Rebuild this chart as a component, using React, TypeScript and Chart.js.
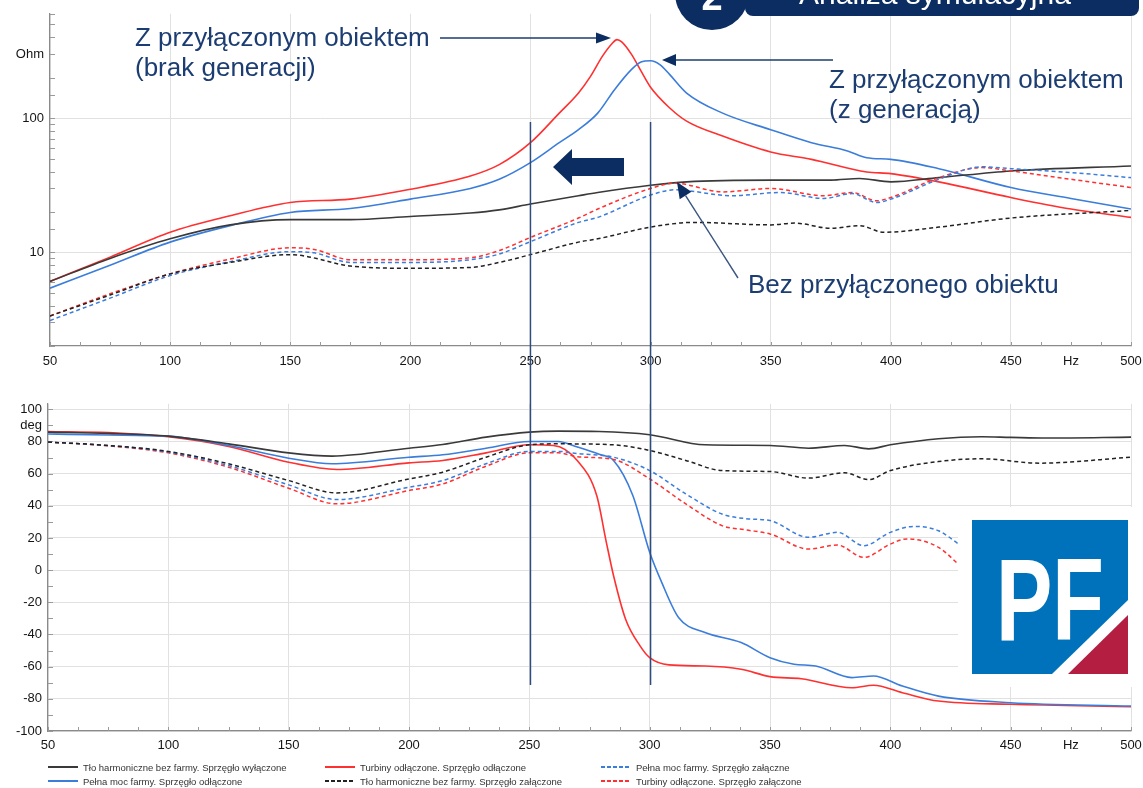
import React, { useEffect, useRef, useState } from 'react';
import { Chart, registerables } from 'chart.js';
Chart.register(...registerables);

// ---------- axis ranges / ticks ----------
const FREQ_MIN = 50;
const FREQ_MAX = 500;
const FREQ_STEP = 12.5;
const FREQ_LABEL_STEP = 50;
const FREQ_UNIT_AT = 475; // "Hz" label position
const MAG_MIN = 2;
const MAG_MAX = 600;
const MAG_LABELS: [number, string][] = [[10, '10'], [100, '100'], [300, 'Ohm']];
const PH_MIN = -100;
const PH_MAX = 103.4;
const PH_STEP = 10;
const PH_UNIT_AT = 90; // "deg" label position
const MARK_FREQS = [250, 300];

// ---------- magnitude |Z| (Ohm) ----------
const magBgOffF = [50, 75, 100, 125, 150, 175, 200, 225, 237, 250, 270, 278, 300, 315, 350, 375, 387, 400, 420, 450, 500];
const magBgOff = [6.06, 9.0, 12.6, 16.0, 17.5, 17.5, 18.5, 19.6, 20.7, 22.9, 26.4, 27.9, 31.6, 33.5, 34.5, 34.5, 35.5, 33.5, 36, 40.4, 44];

const magFullOffF = [50, 75, 100, 125, 150, 175, 200, 225, 237, 250, 262, 270, 278, 285, 292, 296, 300, 304, 308, 315, 330, 350, 367, 382, 390, 400, 420, 450, 475, 500];
const magFullOff = [5.4, 8.0, 11.9, 15.8, 19.8, 21.2, 24.9, 29.9, 35, 46.6, 65.6, 82, 109, 163, 230, 262, 268, 250, 211, 154, 109, 82, 65.6, 57, 50.7, 49.3, 42, 30.4, 25.2, 21];

const magTurbOffF = [50, 75, 100, 125, 150, 175, 200, 225, 237, 250, 262, 270, 275, 280, 284, 286, 288, 292, 296, 300, 308, 315, 330, 350, 367, 390, 400, 420, 450, 475, 500];
const magTurbOff = [6.06, 9.2, 14.1, 18.7, 23.5, 24.9, 29.5, 37, 45, 65.6, 109, 154, 205, 290, 360, 385, 370, 300, 225, 170, 119, 95, 73.5, 56, 49.3, 39.7, 38.6, 33.5, 25.6, 21, 18.2];

const magBgOnF = [50, 75, 100, 125, 150, 175, 200, 225, 237, 250, 270, 278, 300, 318, 350, 360, 375, 387, 397, 420, 450, 500];
const magBgOn = [3.35, 4.8, 6.9, 8.4, 9.6, 7.9, 7.6, 7.7, 8.4, 9.6, 11.9, 12.6, 15.4, 16.7, 16, 16.5, 15.1, 15.8, 14.1, 15.4, 18, 20.5];

const magFullOnF = [50, 75, 100, 125, 150, 160, 175, 200, 225, 237, 250, 270, 278, 300, 310, 334, 354, 372, 384, 394, 400, 420, 438, 450, 475, 500];
const magFullOn = [3.1, 4.55, 6.7, 8.5, 10.1, 9.9, 8.4, 8.4, 8.8, 9.7, 12, 16.7, 18.2, 26.7, 29.2, 26.4, 27.9, 25.2, 27.4, 23.5, 24.9, 35, 43.4, 42, 39.3, 36];

const magTurbOnF = [50, 75, 100, 125, 150, 160, 175, 200, 225, 237, 250, 270, 278, 300, 310, 330, 350, 372, 384, 394, 400, 420, 438, 450, 475, 500];
const magTurbOn = [3.35, 4.9, 6.9, 8.9, 10.8, 10.5, 8.8, 8.8, 9.1, 10.3, 12.9, 18, 21, 29.9, 32.7, 28.2, 29.9, 26.4, 27.9, 24.2, 25.6, 36, 42.8, 40.4, 35, 30.4];

// ---------- phase (deg) ----------
const phBgOffF = [50, 75, 100, 125, 150, 168, 200, 214, 232, 250, 262, 279, 300, 323, 350, 366, 381, 391, 400, 420, 438, 450, 465, 500];
const phBgOff = [85.8, 85, 83.3, 78.5, 72.9, 70.9, 75.8, 78.1, 82.7, 85.8, 86.4, 86.2, 84.2, 77.9, 77.5, 75.8, 77.5, 75.4, 77.9, 81.7, 82.9, 82.5, 82.1, 82.7];

const phFullOffF = [50, 75, 100, 125, 150, 168, 200, 214, 232, 250, 262, 270, 279, 285, 293, 300, 305, 312, 323, 338, 350, 360, 369, 384, 393, 405, 420, 450, 500];
const phFullOff = [84.6, 84, 83.3, 77.5, 69.6, 66.1, 70.2, 71.7, 75.8, 80, 80, 76.5, 72, 68.2, 46.4, 11.1, -7.6, -29.4, -38.8, -45, -54.4, -58.5, -59.6, -66.8, -65.8, -72, -78.3, -82.4, -84.5];

const phTurbOffF = [50, 75, 100, 125, 150, 170, 200, 214, 232, 250, 260, 270, 278, 282, 285, 290, 296, 300, 308, 323, 338, 350, 363, 384, 393, 405, 420, 450, 500];
const phTurbOff = [86.2, 85.5, 82.9, 76.9, 67.1, 62.6, 66.7, 68.2, 72.9, 77.9, 77.5, 68, 46.4, 17.3, -3.5, -30.5, -47.1, -54.4, -58.9, -59.6, -61.6, -66.2, -67.5, -73.1, -71.6, -76.2, -81.4, -83.4, -84.9];

const phBgOnF = [50, 75, 100, 125, 150, 170, 200, 214, 232, 250, 262, 285, 300, 315, 330, 350, 366, 381, 391, 400, 420, 438, 462, 500];
const phBgOn = [79.6, 77.5, 73.8, 66.1, 55.7, 48, 56.7, 60.9, 70.2, 77.9, 78.5, 77.9, 74.4, 68.2, 61.9, 61.3, 57.2, 60.5, 56.3, 61.9, 67.5, 69.2, 66.5, 70.2];

const phFullOnF = [50, 75, 100, 125, 150, 170, 200, 214, 232, 250, 262, 270, 285, 300, 315, 330, 340, 350, 366, 378, 389, 400, 410, 420, 429];
const phFullOn = [79.6, 77.5, 73.4, 65, 53, 43.9, 51.5, 55.7, 66.1, 73.8, 73.8, 72.5, 70.2, 61.9, 47.4, 34.9, 32, 30.8, 20.4, 23.5, 15.2, 23.5, 27.2, 24.5, 15.6];

const phTurbOnF = [50, 75, 100, 125, 150, 170, 200, 214, 232, 250, 262, 270, 285, 300, 315, 330, 340, 350, 366, 378, 389, 400, 407, 420, 429];
const phTurbOn = [79.6, 77.3, 72.9, 64, 50.9, 41.2, 49.5, 53.6, 64.6, 72.9, 72.9, 70.5, 68.8, 56.7, 41.2, 27.7, 25, 22.5, 13.1, 15.6, 7.9, 16.2, 19.4, 14.2, 2.7];

// ---------- series ----------
const BLACK = '#3a3a3a';
const RED = '#ff3030';
const BLUE = '#3b7ddb';
const DASH = [4, 3];

const SERIES = [
  { label: 'Tło harmoniczne bez farmy. Sprzęgło wyłączone', color: BLACK, dash: [] as number[], mag: [magBgOffF, magBgOff], ph: [phBgOffF, phBgOff] },
  { label: 'Pełna moc farmy. Sprzęgło odłączone', color: BLUE, dash: [] as number[], mag: [magFullOffF, magFullOff], ph: [phFullOffF, phFullOff] },
  { label: 'Turbiny odłączone. Sprzęgło odłączone', color: RED, dash: [] as number[], mag: [magTurbOffF, magTurbOff], ph: [phTurbOffF, phTurbOff] },
  { label: 'Tło harmoniczne bez farmy. Sprzęgło załączone', color: '#222222', dash: DASH, mag: [magBgOnF, magBgOn], ph: [phBgOnF, phBgOn] },
  { label: 'Pełna moc farmy. Sprzęgło załączne', color: BLUE, dash: DASH, mag: [magFullOnF, magFullOn], ph: [phFullOnF, phFullOn] },
  { label: 'Turbiny odłączone. Sprzęgło załączone', color: RED, dash: DASH, mag: [magTurbOnF, magTurbOn], ph: [phTurbOnF, phTurbOn] },
];

const FONT = '"Liberation Sans", Arial, sans-serif';
const NAVY = '#1c3d72';
const DARK = '#0c2d62';

const pts = (f: number[], v: number[]) => f.map((x, i) => ({ x, y: v[i] }));

function datasets(kind: 'mag' | 'ph') {
  // draw dashed first, solid on top
  const order = [3, 4, 5, 0, 1, 2];
  return order.map((i) => {
    const s = SERIES[i];
    const [f, v] = s[kind];
    return {
      label: s.label,
      data: pts(f, v),
      borderColor: s.color,
      backgroundColor: s.color,
      borderDash: s.dash,
      borderWidth: s.dash.length ? 1.5 : 1.6,
      pointRadius: 0,
      fill: false,
      cubicInterpolationMode: 'monotone' as const,
    };
  });
}

const innerTicks = {
  id: 'innerTicks',
  beforeDatasetsDraw(chart: any) {
    const { ctx, chartArea } = chart;
    const xs = chart.scales.x;
    const ys = chart.scales.y;
    ctx.save();
    ctx.strokeStyle = '#9a9a9a';
    ctx.lineWidth = 1;
    ctx.beginPath();
    xs.ticks.forEach((t: any) => {
      const px = Math.round(xs.getPixelForValue(t.value)) + 0.5;
      ctx.moveTo(px, chartArea.bottom);
      ctx.lineTo(px, chartArea.bottom - 4);
    });
    ys.ticks.forEach((t: any) => {
      const py = Math.round(ys.getPixelForValue(t.value)) + 0.5;
      ctx.moveTo(chartArea.left, py);
      ctx.lineTo(chartArea.left + 5, py);
    });
    ctx.stroke();
    ctx.restore();
  },
};

const tickFont = { family: FONT, size: 13 };
const TICK_COLOR = '#151515';
const GRID = '#e1e1e1';
const AXIS = '#8a8a8a';

function xScale(padding: number, height: number) {
  return {
    type: 'linear',
    min: FREQ_MIN,
    max: FREQ_MAX,
    ticks: {
      stepSize: FREQ_STEP,
      autoSkip: false,
      maxRotation: 0,
      padding,
      font: tickFont,
      color: TICK_COLOR,
      callback: (v: number) => {
        if (Math.abs(v - FREQ_UNIT_AT) < 1e-6) return 'Hz';
        if (Math.abs(v % FREQ_LABEL_STEP) < 1e-6) return String(v);
        return '';
      },
    },
    grid: {
      drawTicks: false,
      lineWidth: 1,
      color: (c: any) => (c.tick && Math.abs(c.tick.value % FREQ_LABEL_STEP) < 1e-6 ? GRID : 'rgba(0,0,0,0)'),
    },
    border: { color: AXIS, width: 1.2 },
    afterFit: (s: any) => {
      s.height = height;
      s.paddingLeft = 0;
      s.paddingRight = 0;
    },
  };
}

export default function App() {
  const topRef = useRef<HTMLCanvasElement>(null);
  const botRef = useRef<HTMLCanvasElement>(null);
  const [marks, setMarks] = useState<number[]>([]);

  useEffect(() => {
    const top = new Chart(topRef.current!, {
      type: 'line',
      data: { datasets: datasets('mag') as any },
      options: {
        animation: false,
        responsive: false,
        maintainAspectRatio: false,
        layout: { padding: { top: 10, right: 12, left: 0, bottom: 0 } },
        plugins: { legend: { display: false }, tooltip: { enabled: false } },
        scales: {
          x: xScale(8, 34) as any,
          y: {
            type: 'logarithmic',
            min: MAG_MIN,
            max: MAG_MAX,
            ticks: {
              autoSkip: false,
              padding: 6,
              font: tickFont,
              color: TICK_COLOR,
              callback: (v: any) => {
                const hit = MAG_LABELS.find(([val]) => Math.abs(Number(v) - val) < 1e-6 * val);
                return hit ? hit[1] : '';
              },
            },
            grid: {
              drawTicks: false,
              color: (c: any) => (c.tick && MAG_LABELS.slice(0, 2).some(([val]) => Math.abs(c.tick.value - val) < 1e-6) ? GRID : 'rgba(0,0,0,0)'),
            },
            border: { color: AXIS, width: 1.2 },
            afterFit: (s: any) => { s.width = 50; },
          } as any,
        },
      },
      plugins: [innerTicks],
    });

    const bot = new Chart(botRef.current!, {
      type: 'line',
      data: { datasets: datasets('ph') as any },
      options: {
        animation: false,
        responsive: false,
        maintainAspectRatio: false,
        layout: { padding: { top: 12, right: 12, left: 0, bottom: 0 } },
        plugins: { legend: { display: false }, tooltip: { enabled: false } },
        scales: {
          x: xScale(7, 29) as any,
          y: {
            type: 'linear',
            min: PH_MIN,
            max: PH_MAX,
            ticks: {
              stepSize: PH_STEP,
              includeBounds: false,
              autoSkip: false,
              padding: 6,
              font: tickFont,
              color: TICK_COLOR,
              callback: (v: any) => {
                const n = Number(v);
                if (Math.abs(n - PH_UNIT_AT) < 1e-6) return 'deg';
                if (Math.abs(n % 20) < 1e-6) return String(Math.round(n));
                return '';
              },
            },
            grid: {
              drawTicks: false,
              color: (c: any) => (c.tick && Math.abs(c.tick.value % 20) < 1e-6 ? GRID : 'rgba(0,0,0,0)'),
            },
            border: { color: AXIS, width: 1.2 },
            afterFit: (s: any) => { s.width = 48; },
          } as any,
        },
      },
      plugins: [innerTicks],
    });

    setMarks(MARK_FREQS.map((f) => top.scales.x.getPixelForValue(f)));

    return () => {
      top.destroy();
      bot.destroy();
    };
  }, []);

  // legend: 3 columns x 2 rows, column-major
  const legendCols = [48, 325, 601];
  const legendRows = [767, 781];

  // annotation arrow 3 geometry
  const tail = [738, 278];
  const tip = [677, 182];
  const dx = tip[0] - tail[0];
  const dy = tip[1] - tail[1];
  const len = Math.hypot(dx, dy);
  const ux = dx / len, uy = dy / len;
  const nx = -uy, ny = ux;
  const bx = tip[0] - 16 * ux, by = tip[1] - 16 * uy;

  return (
    <div style={{ position: 'absolute', left: 0, top: 0, width: 1143, height: 788, background: '#fff', overflow: 'hidden' }}>
      <canvas ref={topRef} width={1143} height={380} style={{ position: 'absolute', left: 0, top: 0, width: 1143, height: 380 }} />
      <canvas ref={botRef} width={1143} height={370} style={{ position: 'absolute', left: 0, top: 390, width: 1143, height: 370 }} />
      <svg width={1143} height={788} style={{ position: 'absolute', left: 0, top: 0, pointerEvents: 'none' }} fontFamily={FONT}>
        {/* title badge */}
        <rect x={745} y={-20} width={394} height={36} rx={8} fill={DARK} />
        <circle cx={712} cy={-7} r={37} fill={DARK} />
        <text x={712} y={10} fill="#fff" fontSize={38} fontWeight="bold" textAnchor="middle">2</text>
        <text x={935} y={4} fill="#fff" fontSize={30} textAnchor="middle">Analiza symulacyjna</text>

        {/* vertical markers */}
        {marks.map((x, i) => (
          <line key={i} x1={x} x2={x} y1={122} y2={685} stroke="#2e4c7e" strokeWidth={1.5} />
        ))}

        {/* annotation 1 */}
        <text x={135} y={46} fill={NAVY} fontSize={26}>Z przyłączonym obiektem</text>
        <text x={135} y={76} fill={NAVY} fontSize={26}>(brak generacji)</text>
        <line x1={440} y1={38} x2={598} y2={38} stroke={NAVY} strokeWidth={1.3} />
        <polygon points="611,38 596,32.5 596,43.5" fill={DARK} />

        {/* annotation 2 */}
        <text x={829} y={88} fill={NAVY} fontSize={26}>Z przyłączonym obiektem</text>
        <text x={829} y={118} fill={NAVY} fontSize={26}>(z generacją)</text>
        <line x1={833} y1={60} x2={674} y2={60} stroke={NAVY} strokeWidth={1.3} />
        <polygon points="662,60 676,54 676,66" fill={DARK} />

        {/* annotation 3 */}
        <text x={748} y={293} fill={NAVY} fontSize={26}>Bez przyłączonego obiektu</text>
        <line x1={tail[0]} y1={tail[1]} x2={bx} y2={by} stroke="#3a5580" strokeWidth={1.4} />
        <polygon points={`${tip[0]},${tip[1]} ${bx + 7 * nx},${by + 7 * ny} ${bx - 7 * nx},${by - 7 * ny}`} fill={DARK} />

        {/* big left arrow */}
        <polygon points="553,167 572,149 572,158 624,158 624,176 572,176 572,185" fill={DARK} />

        {/* PF logo */}
        <rect x={958} y={507} width={185} height={180} fill="#fff" />
        <polygon points="972,520 1128,520 1128,600 1052,674 972,674" fill="#0072bc" />
        <polygon points="1068,674 1128,674 1128,615" fill="#b31e41" />
        <text x={996} y={640} fill="#fff" fontSize={117} fontWeight="bold" textLength={108} lengthAdjust="spacingAndGlyphs">PF</text>

        {/* legend */}
        {SERIES.map((s, i) => {
          const col = Math.floor(i / 2);
          const row = i % 2;
          const x = legendCols[col];
          const y = legendRows[row];
          return (
            <g key={i}>
              <line x1={x} x2={x + 30} y1={y} y2={y} stroke={s.color} strokeWidth={2} strokeDasharray={s.dash.length ? '4 2' : undefined} />
              <text x={x + 35} y={y + 3.5} fontSize={9.5} fill="#333">{s.label}</text>
            </g>
          );
        })}
      </svg>
    </div>
  );
}
